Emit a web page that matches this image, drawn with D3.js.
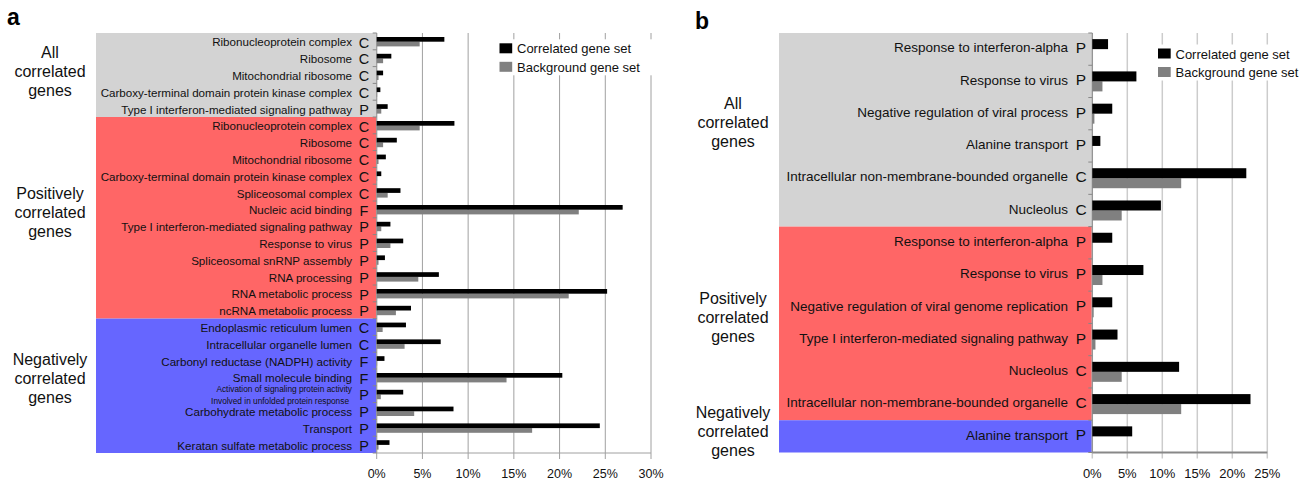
<!DOCTYPE html>
<html>
<head>
<meta charset="utf-8">
<script src="https://cdn.jsdelivr.net/npm/d3@7"></script>
<style>
  body { margin: 0; background: #fff; }
  svg { font-family: "Liberation Sans", Arial, Helvetica, sans-serif; }
</style>
</head>
<body>
<svg id="chart" width="1314" height="483"></svg>
<script>
// ---- data (percent of gene set) ----
const groupNames = ["All\ncorrelated\ngenes", "Positively\ncorrelated\ngenes", "Negatively\ncorrelated\ngenes"]
const legendNames = ["Correlated gene set", "Background gene set"]

// panel a
const aTerms = [
  "Ribonucleoprotein complex", "Ribosome", "Mitochondrial ribosome",
  "Carboxy-terminal domain protein kinase complex", "Type I interferon-mediated signaling pathway",
  "Ribonucleoprotein complex", "Ribosome", "Mitochondrial ribosome",
  "Carboxy-terminal domain protein kinase complex", "Spliceosomal complex", "Nucleic acid binding",
  "Type I interferon-mediated signaling pathway", "Response to virus", "Spliceosomal snRNP assembly",
  "RNA processing", "RNA metabolic process", "ncRNA metabolic process",
  "Endoplasmic reticulum lumen", "Intracellular organelle lumen", "Carbonyl reductase (NADPH) activity",
  "Small molecule binding", "Activation of signaling protein activity\nInvolved in unfolded protein response",
  "Carbohydrate metabolic process", "Transport", "Keratan sulfate metabolic process"
]
const aOntology = ["C","C","C","C","P", "C","C","C","C","C","F","P","P","P","P","P","P", "C","C","F","F","P","P","P","P"]
const aCorrelated = [7.4, 1.6, 0.7, 0.4, 1.2, 8.5, 2.2, 1.0, 0.5, 2.6, 26.9, 1.5, 2.9, 0.9, 6.8, 25.2, 3.75, 3.2, 7.0, 0.85, 20.3, 2.9, 8.4, 24.4, 1.4]
const aBackground = [4.7, 0.7, 0.2, 0.05, 0.5, 4.7, 0.7, 0.2, 0.05, 1.2, 22.1, 0.5, 1.5, 0.2, 4.55, 21.0, 2.1, 0.65, 3.05, 0.05, 14.2, 0.45, 4.1, 17.0, 0.2]
const aGroupSizes = [5, 12, 8]
const aTicks = [0, 5, 10, 15, 20, 25, 30]

// panel b
const bTerms = [
  "Response to interferon-alpha", "Response to virus", "Negative regulation of viral process",
  "Alanine transport", "Intracellular non-membrane-bounded organelle", "Nucleolus",
  "Response to interferon-alpha", "Response to virus", "Negative regulation of viral genome replication",
  "Type I interferon-mediated signaling pathway", "Nucleolus", "Intracellular non-membrane-bounded organelle",
  "Alanine transport"
]
const bOntology = ["P","P","P","P","C","C", "P","P","P","P","C","C", "P"]
const bCorrelated = [2.25, 6.3, 2.85, 1.15, 22.0, 9.8, 2.85, 7.3, 2.85, 3.6, 12.4, 22.6, 5.7]
const bBackground = [0, 1.45, 0.3, 0, 12.7, 4.2, 0, 1.45, 0.2, 0.45, 4.2, 12.7, 0]
const bGroupSizes = [6, 6, 1]
const bTicks = [0, 5, 10, 15, 20, 25]

const groupColors = ["#d3d3d3", "#ff6666", "#6666ff"]

const svg = d3.select("#chart")

function drawPanel (cfg) {
  const g = svg.append("g")
  const n = cfg.terms.length
  const rows = d3.range(n)

  const x = d3.scaleLinear().domain([0, d3.max(cfg.ticks)]).range([cfg.x0, cfg.x1])
  const y = d3.scaleBand().domain(rows).range([cfg.top, cfg.bottom]).padding(0)
  const bw = y.bandwidth()

  // group background bands + labels
  let start = 0
  cfg.groups.forEach(function (size, gi) {
    const y0 = y(start), y1 = y(start + size - 1) + bw
    g.append("rect")
      .attr("x", cfg.bgLeft).attr("y", y0)
      .attr("width", cfg.x0 - cfg.bgLeft).attr("height", y1 - y0)
      .attr("fill", groupColors[gi])
    const lines = groupNames[gi].split("\n")
    const mid = (y0 + y1) / 2 + cfg.groupShift[gi]
    lines.forEach(function (l, li) {
      g.append("text")
        .attr("x", cfg.groupX)
        .attr("y", mid + (li - 1) * 19)
        .attr("text-anchor", "middle")
        .style("font-size", "16px")
        .attr("fill", "#111")
        .text(l)
    })
    start += size
  })

  // gridlines
  g.selectAll(".grid")
    .data(cfg.ticks)
    .join("line")
    .attr("x1", d => x(d)).attr("x2", d => x(d))
    .attr("y1", cfg.top).attr("y2", cfg.bottom + 6)
    .attr("stroke", cfg.gridColor)
    .attr("stroke-width", cfg.gridWidth)

  // legend (white box covers gridlines)
  g.append("rect")
    .attr("x", cfg.legX - 5).attr("y", cfg.legY - 4)
    .attr("width", 160).attr("height", 36)
    .attr("fill", "#fff")
  legendNames.forEach(function (name, i) {
    g.append("rect")
      .attr("x", cfg.legX).attr("y", cfg.legY + i * 18.5)
      .attr("width", 12.7).attr("height", 10)
      .attr("fill", i === 0 ? "#000" : "#808080")
    g.append("text")
      .attr("x", cfg.legX + 17.5).attr("y", cfg.legY + 10 + i * 18.5)
      .style("font-size", "13px")
      .attr("fill", "#111")
      .text(name)
  })

  // bottom axis
  g.append("line")
    .attr("x1", cfg.x0).attr("x2", x(d3.max(cfg.ticks)))
    .attr("y1", cfg.bottom).attr("y2", cfg.bottom)
    .attr("stroke", cfg.axisColor).attr("stroke-width", cfg.axisWidth)
  g.append("line")
    .attr("x1", cfg.x0).attr("x2", cfg.x0)
    .attr("y1", cfg.top).attr("y2", cfg.bottom)
    .attr("stroke", cfg.axisColor).attr("stroke-width", 1)
  g.selectAll(".tickLab")
    .data(cfg.ticks)
    .join("text")
    .attr("x", d => x(d)).attr("y", 478)
    .attr("text-anchor", "middle")
    .style("font-size", cfg.tickSize)
    .attr("fill", "#111")
    .text(d => d + "%")

  // row ticks on the category axis
  g.selectAll(".rowTick")
    .data(d3.range(n + 1))
    .join("line")
    .attr("x1", cfg.x0 - 4).attr("x2", cfg.x0)
    .attr("y1", d => cfg.top + d * bw).attr("y2", d => cfg.top + d * bw)
    .attr("stroke", "#888")

  // bars
  const bh = cfg.barH
  g.selectAll(".bg-bar")
    .data(rows)
    .join("rect")
    .attr("x", cfg.x0)
    .attr("y", d => y(d) + bw / 2 + cfg.barShift)
    .attr("width", d => x(cfg.background[d]) - cfg.x0)
    .attr("height", bh)
    .attr("fill", "#808080")
  g.selectAll(".cor-bar")
    .data(rows)
    .join("rect")
    .attr("x", cfg.x0)
    .attr("y", d => y(d) + bw / 2 - bh + cfg.barShift)
    .attr("width", d => x(cfg.correlated[d]) - cfg.x0)
    .attr("height", bh)
    .attr("fill", "#000")

  // row labels
  rows.forEach(function (i) {
    const cy = y(i) + bw / 2 + cfg.labelShift
    const parts = cfg.terms[i].split("\n")
    if (parts.length === 1) {
      g.append("text")
        .attr("x", cfg.labelEnd).attr("y", cy)
        .attr("dy", "0.35em")
        .attr("text-anchor", "end")
        .style("font-size", cfg.labelSize)
        .attr("fill", "#111")
        .text(parts[0])
    } else {
      parts.forEach(function (p, pi) {
        g.append("text")
          .attr("x", cfg.labelEnd - pi * 3).attr("y", cy + (pi - 0.5) * 11.5)
          .attr("dy", "0.35em")
          .attr("text-anchor", "end")
          .style("font-size", "8.3px")
          .attr("fill", "#111")
          .text(p)
      })
    }
    g.append("text")
      .attr("x", cfg.letterX).attr("y", cy)
      .attr("dy", "0.36em")
      .attr("text-anchor", "middle")
      .style("font-size", cfg.letterSize)
      .attr("fill", "#111")
      .text(cfg.ontology[i])
  })

  // panel letter
  svg.append("text")
    .attr("x", cfg.panelX).attr("y", cfg.panelY)
    .style("font-size", "23px").style("font-weight", "bold")
    .text(cfg.panel)
}

drawPanel({
  panel: "a", panelX: 7, panelY: 25,
  terms: aTerms, ontology: aOntology, correlated: aCorrelated, background: aBackground,
  groups: aGroupSizes, ticks: aTicks, groupShift: [2, 0, -2],
  x0: 376.7, x1: 651, top: 33, bottom: 453, bgLeft: 96,
  groupX: 50, labelEnd: 352, letterX: 364, labelShift: 1, labelSize: "11.6px", letterSize: "14.5px",
  barH: 4.7, barShift: 0.3,
  gridColor: "#a0a0a0", gridWidth: 1, axisColor: "#a0a0a0", axisWidth: 1,
  tickSize: "12.5px", legX: 499.5, legY: 43.3
})

drawPanel({
  panel: "b", panelX: 695, panelY: 29,
  terms: bTerms, ontology: bOntology, correlated: bCorrelated, background: bBackground,
  groups: bGroupSizes, ticks: bTicks, groupShift: [-2, 0, 1],
  x0: 1092.3, x1: 1267.3, top: 33, bottom: 452.5, bgLeft: 779,
  groupX: 733, labelEnd: 1068, letterX: 1081, labelShift: -1.5, labelSize: "13.5px", letterSize: "15.5px",
  barH: 10, barShift: 0,
  gridColor: "#cccccc", gridWidth: 1.5, axisColor: "#888888", axisWidth: 2,
  tickSize: "13px", legX: 1158, legY: 48.5
})
</script>
</body>
</html>
